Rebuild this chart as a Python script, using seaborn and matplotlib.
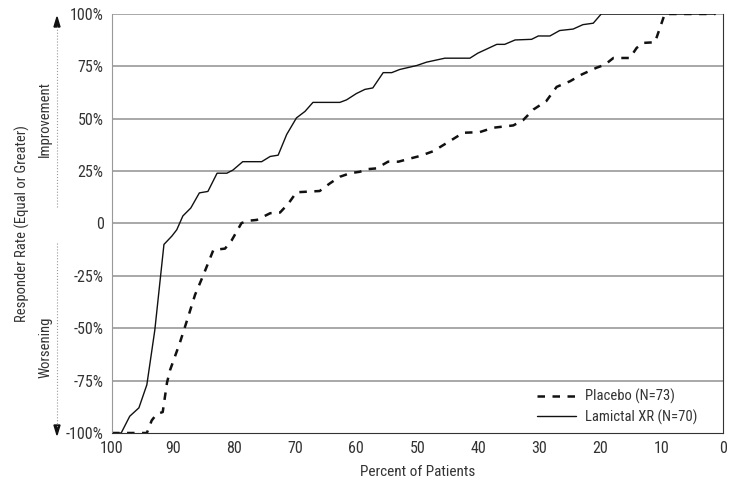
import pandas as pd
import seaborn as sns
import matplotlib.pyplot as plt
from matplotlib.ticker import FixedLocator

# Lamictal XR (solid)
lam_x = [100, 98.5, 97.1, 95.6, 94.3, 93.0, 91.5, 90.2, 89.4, 88.4, 87.1, 85.7, 84.3,
         82.8, 81.2, 80.2, 78.6, 75.5, 74.1, 72.8, 71.4, 69.8, 68.4, 67.1, 62.7, 61.6,
         60.0, 58.6, 57.3, 55.6, 54.2, 52.9, 50.1, 48.5, 45.5, 41.4, 40.1, 37.0, 35.7,
         34.0, 31.3, 30.2, 28.3, 26.7, 24.5, 22.9, 21.2, 19.9, 1.2]
lam_y = [-100, -100, -92, -88, -77, -51, -10, -6, -3, 3.6, 7.4, 14.6, 15.3,
         24, 24, 25.5, 29.5, 29.5, 32, 32.6, 42.5, 50.4, 53.5, 57.8, 57.8, 59,
         62, 64, 64.7, 72, 72, 73.5, 75.4, 77, 78.9, 78.9, 81.3, 85.5, 85.5,
         87.6, 87.9, 89.5, 89.5, 92.1, 92.8, 94.9, 95.6, 100, 100]

# Placebo (dashed)
pla_x = [100, 94.3, 93.5, 92.7, 91.7, 91.0, 90.5, 88.9, 87.8, 86.4, 85.1, 83.4, 81.5,
         80.4, 78.8, 77.7, 76.3, 74.1, 72.5, 71.1, 69.8, 67.9, 66.0, 64.3, 62.7, 61.0,
         59.4, 58.3, 56.7, 54.8, 53.1, 51.2, 49.6, 47.4, 44.7, 42.5, 39.8, 37.6, 34.3,
         32.7, 31.0, 28.9, 27.2, 25.0, 23.1, 20.7, 19.3, 17.9, 15.2, 14.1, 13.0, 11.1,
         10.3, 9.5, 1.2]
pla_y = [-100, -100, -94, -91, -90, -76, -70, -57, -47, -34, -25, -12.6, -12,
         -8, 0.2, 1.3, 1.7, 4.9, 5.2, 9.6, 14.9, 15.2, 15.5, 19.2, 22.3, 24,
         24.7, 25.9, 26.3, 29.5, 29.5, 31, 32.2, 34.5, 39.3, 43.3, 43.6, 45.7, 46.8,
         49.3, 54.4, 58.4, 65.2, 67.9, 71.1, 74.3, 75.8, 79, 79, 83.8, 86.2, 86.5,
         93.2, 100, 100]

x_ticks = [100, 90, 80, 70, 60, 50, 40, 30, 20, 10, 0]
y_ticks = [-100, -75, -50, -25, 0, 25, 50, 75, 100]
y_labels = ["-100%", "-75%", "-50%", "-25%", "0", "25%", "50%", "75%", "100%"]

sns.set_style("white")
plt.rcParams['font.family'] = ['Roboto Condensed', 'DejaVu Sans']
FS = 10.5
TXT = "#333333"

fig = plt.figure(figsize=(7.39, 4.87), dpi=100)
ax = fig.add_axes([0.1516, 0.1109, 0.8264, 0.8604])

sns.lineplot(x=pla_x, y=pla_y, ax=ax, color="#111111", lw=1.8, sort=False,
             estimator=None, label="Placebo (N=73)")
ax.lines[-1].set_dashes((3, 3))
sns.lineplot(x=lam_x, y=lam_y, ax=ax, color="#111111", lw=1.0, sort=False,
             estimator=None, label="Lamictal XR (N=70)")

ax.set_xlim(100, 0)
ax.set_ylim(-100, 100)
ax.xaxis.set_major_locator(FixedLocator(x_ticks))
ax.set_yticks(y_ticks)
ax.set_yticklabels(y_labels)
for yv in y_ticks[1:]:
    ax.axhline(yv, color="#999999", lw=1.2, zorder=0)

ax.spines["left"].set_color("#999999")
ax.spines["right"].set_color("#333333")
ax.spines["bottom"].set_color("#333333")
ax.spines["top"].set_visible(False)
ax.tick_params(axis="both", length=4, width=0.8, color="#999999", labelsize=11.5,
               labelcolor=TXT, pad=2)

ax.set_xlabel("Percent of Patients", fontsize=11, color=TXT, labelpad=6)

leg = ax.legend(loc="lower right", frameon=False, fontsize=FS, handlelength=2.7,
                handletextpad=0.6, bbox_to_anchor=(0.98, -0.012), labelspacing=0.35)
for h in leg.get_lines():
    h.set_color("#111111")
for t in leg.get_texts():
    t.set_color(TXT)

# left side annotations
fig.text(22 / 739, 1 - 224 / 487, "Responder Rate (Equal or Greater)", rotation=90,
         ha="center", va="center", fontsize=FS, color=TXT)
fig.text(45 / 739, 1 - 119 / 487, "Improvement", rotation=90,
         ha="center", va="center", fontsize=FS, color=TXT)
fig.text(45 / 739, 1 - 347 / 487, "Worsening", rotation=90,
         ha="center", va="center", fontsize=FS, color=TXT)
ax_x = 57 / 739
fig.add_artist(plt.Line2D([ax_x, ax_x], [1 - 207 / 487, 1 - 25 / 487],
                          color="#999999", lw=0.8, ls=":"))
fig.add_artist(plt.Line2D([ax_x, ax_x], [1 - 243 / 487, 1 - 428 / 487],
                          color="#999999", lw=0.8, ls=":"))
fig.patches.append(plt.Polygon([[ax_x, 1 - 17 / 487], [ax_x - 3 / 739, 1 - 27 / 487],
                                [ax_x + 3 / 739, 1 - 27 / 487]], closed=True,
                               transform=fig.transFigure, color="#111111"))
fig.patches.append(plt.Polygon([[ax_x, 1 - 435 / 487], [ax_x - 3 / 739, 1 - 425 / 487],
                                [ax_x + 3 / 739, 1 - 425 / 487]], closed=True,
                               transform=fig.transFigure, color="#111111"))

fig.savefig("out.png", dpi=100)
